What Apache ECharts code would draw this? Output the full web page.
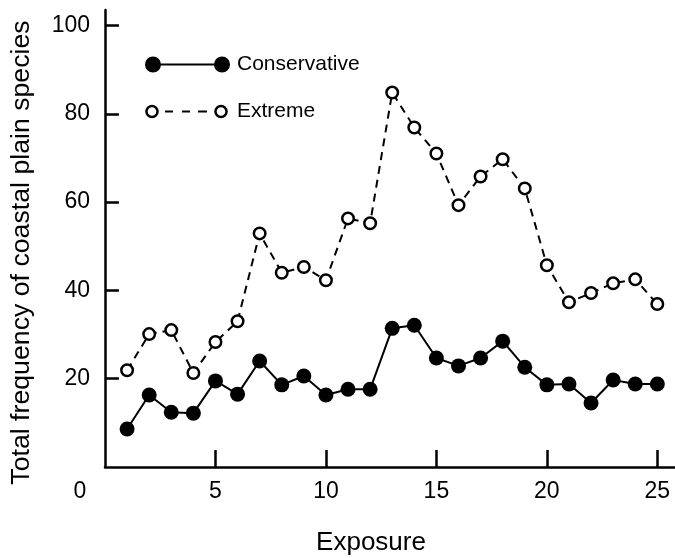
<!DOCTYPE html>
<html>
<head>
<meta charset="utf-8">
<script src="https://cdn.jsdelivr.net/npm/echarts@6/dist/echarts.min.js"></script>
<style>
  html, body { margin: 0; padding: 0; background: #fff; }
  #chart { width: 675px; height: 558px; }
</style>
</head>
<body>
<div id="chart"></div>
<script>
// 数据
const exposure = [1, 2, 3, 4, 5, 6, 7, 8, 9, 10, 11, 12, 13, 14, 15, 16, 17, 18, 19, 20, 21, 22, 23, 24, 25]
const conservative = [8.6, 16.3, 12.4, 12.2, 19.5, 16.5, 24.0, 18.6, 20.6, 16.3, 17.6, 17.6, 31.4, 32.1, 24.7, 22.9, 24.7, 28.5, 22.6, 18.6, 18.8, 14.5, 19.7, 18.8, 18.8]
const extreme = [21.9, 30.1, 31.0, 21.3, 28.3, 33.0, 52.9, 44.0, 45.3, 42.3, 56.3, 55.2, 84.8, 76.9, 71.0, 59.3, 65.8, 69.7, 63.1, 45.7, 37.3, 39.4, 41.6, 42.5, 36.9]
const xTicks = [5, 10, 15, 20, 25]
const xTickStep = 5
const yTickStep = 20

const font = 'Liberation Sans'

// 坐标比例：x 轴线一直画到右边缘，y 轴线比 100 高一点
const pxPerX = 570 / 25.8
const xTickMax = 25
const yMax = 103.5, yTickMax = 100
const plotLeft = 105, plotTop = 10, plotWidth = 572, plotHeight = 457
const plotBottomY = plotTop + plotHeight
const xMax = plotWidth / pxPerX

// 图例图标：点—线—点
const circle = (cx, cy, r, sweep) =>
  `M${cx - r},${cy} A${r},${r} 0 1,${sweep} ${cx + r},${cy} A${r},${r} 0 1,${sweep} ${cx - r},${cy} Z `
const filledIcon = 'path://' + circle(8, 8, 8, 1) + circle(77, 8, 8, 1) + 'M15,7 L70,7 L70,9 L15,9 Z'
const openIcon = 'path://' +
  circle(7, 8, 6.8, 1) + circle(7, 8, 4.3, 0) +
  circle(76, 8, 6.8, 1) + circle(76, 8, 4.3, 0) +
  'M20,7 L28,7 L28,9 L20,9 Z M37,7 L45,7 L45,9 L37,9 Z M53,7 L62,7 L62,9 L53,9 Z ' +
  'M84.9,8 L85,8 L85,8.1 Z M0,0 L0.1,0 L0.1,0.1 Z M0,15.9 L0.1,15.9 L0.1,16 Z'

const myChart = echarts.init(document.getElementById('chart'))

const labelStyle = { fontFamily: font, fontSize: 23, color: '#000' }
const tickWidth = pxPerX * xTickMax
const tickHeight = plotHeight * yTickMax / yMax

const option = {
  animation: false,
  backgroundColor: '#fff',
  grid: [
    // 数据和轴线
    { left: plotLeft, top: plotTop, height: plotHeight, width: plotWidth, outerBoundsMode: 'none', containLabel: false },
    // 刻度标签 + y 刻度
    { left: plotLeft, top: plotBottomY - tickHeight, width: tickWidth, height: tickHeight, outerBoundsMode: 'none', containLabel: false },
    // x 刻度：放在一个贴着 x 轴的窄网格顶部，刻度朝上
    { left: plotLeft, top: plotBottomY, width: tickWidth, height: 1, outerBoundsMode: 'none', containLabel: false }
  ],
  legend: {
    orient: 'vertical',
    left: 140,
    top: 49,
    itemWidth: 85,
    itemHeight: 16,
    itemGap: 26,
    selectedMode: false,
    textStyle: { fontFamily: font, fontSize: 21, color: '#000', padding: [0, 0, 0, 2] },
    data: [
      { name: 'Conservative', icon: filledIcon, itemStyle: { color: '#000', borderWidth: 0 } },
      { name: 'Extreme', icon: openIcon, itemStyle: { color: '#000', borderWidth: 0 } }
    ]
  },
  xAxis: [
    {
      gridIndex: 0,
      type: 'value',
      min: 0,
      max: xMax,
      name: 'Exposure',
      nameLocation: 'middle',
      nameGap: 63,
      nameTextStyle: { fontFamily: font, fontSize: 26, color: '#000', padding: [0, 40, 0, 0] },
      axisLine: { show: true, onZero: false, lineStyle: { color: '#000', width: 2.5 } },
      axisTick: { show: false },
      axisLabel: { show: false },
      splitLine: { show: false }
    },
    {
      gridIndex: 1,
      type: 'value',
      min: 0,
      max: xTickMax,
      interval: xTickStep,
      axisLine: { show: false, onZero: false },
      axisTick: { show: false },
      axisLabel: {
        margin: 13,
        ...labelStyle,
        formatter: v => (v === 0 ? '{o|0}' : String(v)),
        rich: { o: { ...labelStyle, padding: [0, 50, 0, 0] } }
      },
      splitLine: { show: false }
    },
    {
      gridIndex: 2,
      type: 'value',
      position: 'top',
      min: 0,
      max: xTickMax,
      axisLine: { show: false, onZero: false },
      axisTick: { show: true, inside: false, length: 17, customValues: xTicks, lineStyle: { color: '#000', width: 2.5 } },
      axisLabel: { show: false },
      splitLine: { show: false }
    }
  ],
  yAxis: [
    {
      gridIndex: 0,
      type: 'value',
      min: 0,
      max: yMax,
      name: 'Total frequency of coastal plain species',
      nameLocation: 'middle',
      nameGap: 70,
      nameRotate: 90,
      nameTextStyle: { fontFamily: font, fontSize: 26.7, color: '#000', padding: [0, 28, 0, 0] },
      axisLine: { show: true, onZero: false, lineStyle: { color: '#000', width: 2.5 } },
      axisTick: { show: false },
      axisLabel: { show: false },
      splitLine: { show: false }
    },
    {
      gridIndex: 1,
      type: 'value',
      min: 0,
      max: yTickMax,
      interval: yTickStep,
      axisLine: { show: false, onZero: false },
      axisTick: { show: true, inside: true, length: 14, lineStyle: { color: '#000', width: 2.5 } },
      axisLabel: { margin: 15, ...labelStyle, showMinLabel: false },
      splitLine: { show: false }
    },
    {
      gridIndex: 2,
      type: 'value',
      min: 0,
      max: 1,
      axisLine: { show: false },
      axisTick: { show: false },
      axisLabel: { show: false },
      splitLine: { show: false }
    }
  ],
  series: [
    {
      name: 'Extreme',
      type: 'line',
      xAxisIndex: 0,
      yAxisIndex: 0,
      data: exposure.map((x, i) => [x, extreme[i]]),
      symbol: 'circle',
      symbolSize: 11.5,
      showAllSymbol: true,
      itemStyle: { color: '#fff', borderColor: '#000', borderWidth: 2.5 },
      lineStyle: { color: '#000', width: 2, type: [8, 6] },
      z: 2
    },
    {
      name: 'Conservative',
      type: 'line',
      xAxisIndex: 0,
      yAxisIndex: 0,
      data: exposure.map((x, i) => [x, conservative[i]]),
      symbol: 'circle',
      symbolSize: 15,
      showAllSymbol: true,
      itemStyle: { color: '#000' },
      lineStyle: { color: '#000', width: 2 },
      z: 3
    }
  ]
}

myChart.setOption(option)
</script>
</body>
</html>
